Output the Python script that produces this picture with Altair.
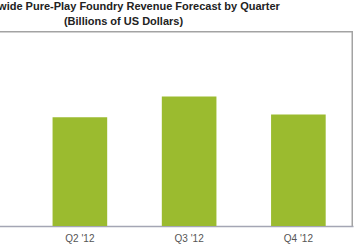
import altair as alt
import pandas as pd

# Quarterly pure-play foundry revenue forecast, billions of US dollars
quarters = ["Q1 '12", "Q2 '12", "Q3 '12", "Q4 '12"]
revenue = [5.5, 7.8, 9.3, 8.0]

PLOT_W = 437
PLOT_H = 195
FRAME = "#a3a3a3"

df = pd.DataFrame({"quarter": quarters, "revenue": revenue})
one_row = pd.DataFrame({"k": [0]})

bars = (
    alt.Chart(df)
    .mark_bar(color="#9bbb2f")
    .encode(
        x=alt.X(
            "quarter:N",
            sort=quarters,
            scale=alt.Scale(paddingInner=0.5, paddingOuter=0.25),
            axis=alt.Axis(
                title=None,
                labelAngle=0,
                ticks=False,
                domainColor="#a4a6b4",
                domainWidth=1.5,
                labelColor="#555555",
                labelFont="Liberation Sans",
                labelFontSize=10,
                labelPadding=7,
            ),
        ),
        y=alt.Y(
            "revenue:Q",
            scale=alt.Scale(domain=[0, 14]),
            axis=None,
        ),
    )
)

# plot-area frame: top and right edges
top_edge = alt.Chart(one_row).mark_rule(color=FRAME, strokeWidth=1.5).encode(
    x=alt.value(0), x2=alt.value(PLOT_W), y=alt.value(0.75)
)
right_edge = alt.Chart(one_row).mark_rule(color=FRAME, strokeWidth=1.5).encode(
    x=alt.value(PLOT_W - 0.75), y=alt.value(0), y2=alt.value(PLOT_H)
)

chart = (
    alt.layer(bars, top_edge, right_edge)
    .properties(
        width=PLOT_W,
        height=PLOT_H,
        autosize=alt.AutoSizeParams(type="none"),
        padding={"left": -84, "right": 6, "top": 31, "bottom": 24},
        title=alt.TitleParams(
            text=[
                "Worldwide Pure-Play Foundry Revenue Forecast by Quarter",
                "(Billions of US Dollars)",
            ],
            font="Liberation Sans",
            fontSize=11,
            fontWeight="bold",
            color="#222222",
            lineHeight=15.5,
            offset=3,
            anchor="middle",
            dx=-11,
        ),
    )
    .configure_view(strokeWidth=0)
)

chart.save("out.html", embed_options={"renderer": "svg", "actions": False})
